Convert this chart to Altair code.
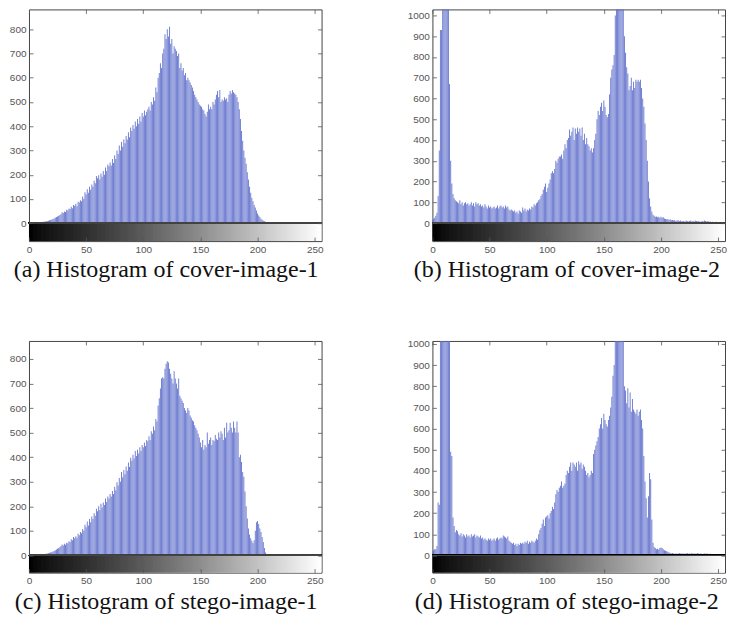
import altair as alt
import pandas as pd

levels = list(range(256))

cover1 = [
    0, 0, 1, 1, 1, 2, 2, 3, 3, 4,
    4, 5, 5, 6, 7, 8, 9, 10, 12, 13,
    15, 17, 19, 22, 25, 27, 30, 34, 37, 45,
    42, 48, 46, 55, 52, 60, 58, 68, 62, 75,
    72, 80, 70, 88, 85, 95, 90, 110, 100, 128,
    118, 140, 125, 150, 138, 160, 150, 175, 165, 195,
    185, 198, 180, 205, 192, 215, 200, 230, 215, 242,
    235, 250, 238, 265, 248, 280, 265, 300, 285, 320,
    300, 335, 315, 345, 330, 360, 345, 375, 355, 395,
    380, 405, 390, 420, 400, 430, 410, 440, 420, 455,
    440, 465, 445, 460, 470, 480, 465, 500, 490, 520,
    505, 560, 540, 600, 620, 660, 640, 700, 720, 780,
    760, 800, 770, 810, 740, 760, 700, 730, 720, 710,
    690, 700, 640, 660, 630, 640, 610, 620, 590, 600,
    590, 580, 570, 560, 545, 530, 520, 510, 500, 490,
    485, 480, 470, 465, 450, 440, 460, 490, 470, 480,
    470, 500, 490, 510, 530, 545, 520, 550, 500, 510,
    505, 520, 510, 515, 500, 530, 545, 535, 550, 540,
    535, 530, 520, 500, 470, 430, 380, 340, 300, 270,
    245, 210, 180, 150, 125, 105, 90, 75, 65, 52,
    40, 32, 25, 18, 14, 10, 8, 6, 5, 4,
    3, 3, 2, 2, 2, 1, 1, 1, 1, 0,
    0, 0, 1, 0, 0, 0, 0, 0, 0, 0,
    0, 0, 0, 0, 0, 0, 0, 0, 0, 0,
    0, 0, 0, 0, 0, 0, 0, 0, 0, 0,
    0, 0, 0, 0, 0, 0,
]

cover2 = [
    15, 20, 25, 35, 50, 130, 350, 930, 930, 1100,
    1200, 1300, 1250, 1150, 1080, 670, 300, 190, 140, 120,
    110, 105, 100, 95, 110, 90, 100, 85, 95, 100,
    90, 95, 85, 90, 100, 85, 95, 80, 100, 90,
    95, 85, 90, 80, 85, 75, 90, 80, 70, 85,
    75, 80, 70, 75, 80, 70, 75, 85, 70, 80,
    85, 75, 80, 70, 85, 75, 80, 65, 60, 65,
    60, 55, 60, 50, 55, 45, 60, 55, 50, 75,
    60, 70, 55, 65, 60, 70, 65, 80, 75, 90,
    85, 95, 100, 110, 115, 130, 140, 160, 175, 190,
    150, 170, 190, 210, 240, 250, 240, 260, 300, 290,
    310, 320, 320, 330, 310, 350, 380, 360, 400, 410,
    450, 420, 440, 460, 400, 455, 430, 460, 440, 455,
    420, 460, 400, 430, 380, 410, 380, 370, 350, 360,
    340, 360, 400, 430, 500, 540, 520, 560, 580, 540,
    590, 560, 520, 510, 525, 620, 700, 740, 760, 810,
    1000, 1100, 1200, 1300, 1250, 1150, 1100, 1050, 900, 820,
    750, 720, 640, 660, 700, 640, 680, 650, 690, 680,
    690, 680, 690, 650, 600, 560, 480, 400, 300, 200,
    120, 80, 55, 40, 35, 30, 32, 28, 30, 25,
    30, 25, 28, 22, 20, 18, 20, 15, 18, 15,
    15, 12, 15, 10, 12, 14, 10, 12, 8, 10,
    10, 8, 12, 10, 8, 10, 12, 8, 10, 8,
    12, 10, 8, 10, 6, 8, 10, 8, 12, 10,
    8, 10, 6, 8, 5, 6, 5, 4, 6, 5,
    4, 5, 3, 4, 2, 2,
]

stego1 = [
    0, 0, 0, 1, 1, 1, 2, 2, 2, 3,
    3, 4, 5, 6, 6, 7, 8, 9, 11, 12,
    14, 16, 18, 21, 24, 27, 30, 33, 38, 45,
    40, 48, 44, 52, 50, 58, 55, 66, 62, 75,
    70, 78, 72, 88, 82, 95, 90, 108, 100, 125,
    115, 138, 122, 148, 135, 158, 148, 172, 162, 190,
    180, 200, 185, 210, 195, 215, 205, 232, 218, 240,
    232, 250, 240, 262, 250, 280, 265, 298, 285, 315,
    300, 340, 318, 348, 330, 362, 345, 378, 360, 398,
    385, 410, 395, 425, 405, 430, 415, 440, 425, 450,
    440, 460, 445, 470, 465, 485, 470, 505, 495, 525,
    510, 555, 545, 610, 640, 680, 720, 725, 720, 760,
    780, 790, 785, 760, 740, 720, 700, 750, 720, 700,
    680, 720, 650, 640, 630, 620, 600, 590, 580, 600,
    590, 570, 560, 550, 545, 530, 520, 510, 495, 480,
    460, 440, 470, 430, 450, 440, 500, 455, 470, 480,
    450, 470, 465, 490, 475, 470, 500, 480, 505, 495,
    470, 520, 480, 540, 500, 510, 540, 520, 500, 545,
    520, 500, 545, 500, 400, 410, 380, 340, 320, 260,
    200, 150, 110, 85, 70, 60, 50, 62, 100, 135,
    140, 128, 110, 95, 75, 55, 30, 12, 6, 4,
    3, 2, 2, 2, 1, 1, 2, 1, 1, 0,
    0, 0, 0, 0, 0, 0, 0, 0, 0, 0,
    0, 0, 0, 0, 0, 0, 0, 0, 0, 0,
    0, 0, 0, 0, 0, 0, 0, 0, 0, 0,
    0, 0, 0, 0, 0, 0,
]

stego2 = [
    20, 25, 30, 30, 45, 250, 240, 1100, 1200, 1300,
    1250, 1200, 1150, 1100, 1080, 1050, 490, 470, 180, 140,
    110, 120, 115, 100, 95, 105, 90, 100, 95, 85,
    100, 90, 95, 85, 100, 90, 95, 100, 85, 95,
    90, 85, 95, 80, 85, 75, 80, 75, 70, 80,
    75, 80, 70, 75, 80, 70, 80, 85, 75, 80,
    85, 80, 95, 90, 85, 80, 90, 70, 65, 60,
    55, 60, 50, 55, 45, 55, 50, 60, 55, 60,
    55, 65, 60, 70, 55, 65, 60, 70, 65, 60,
    70, 80, 75, 100, 120, 130, 150, 170, 140, 180,
    185, 190, 175, 200, 210, 230, 220, 250, 290, 310,
    300, 320, 330, 350, 320, 330, 340, 380, 400, 390,
    420, 440, 400, 440, 430, 420, 440, 400, 445, 430,
    440, 410, 430, 420, 400, 380, 390, 370, 380, 400,
    390, 480, 500, 520, 540, 560, 600, 620, 650, 600,
    670, 640, 620, 610, 640, 660, 700, 750, 850, 900,
    1100, 1200, 1300, 1250, 1200, 1150, 1100, 1080, 800, 780,
    720, 790, 700, 770, 680, 740, 690, 680, 670, 690,
    660, 680, 690, 640, 600, 470, 350, 270, 180, 280,
    390, 360, 170, 60, 40, 35, 30, 32, 28, 35,
    38, 35, 30, 25, 22, 20, 18, 15, 12, 10,
    12, 10, 8, 10, 8, 10, 12, 10, 8, 10,
    10, 8, 10, 12, 8, 10, 8, 12, 10, 8,
    10, 8, 12, 10, 8, 10, 6, 8, 10, 8,
    10, 8, 6, 8, 6, 5, 6, 5, 4, 6,
    5, 4, 6, 3, 4, 2,
]

captions = [
    "(a) Histogram of cover-image-1",
    "(b) Histogram of cover-image-2",
    "(c) Histogram of stego-image-1",
    "(d) Histogram of stego-image-2",
]
x_ticks = [0, 50, 100, 150, 200, 250]
y_ticks_1 = [0, 100, 200, 300, 400, 500, 600, 700, 800]
y_ticks_2 = [0, 100, 200, 300, 400, 500, 600, 700, 800, 900, 1000]

BAR = "#5e6ecb"
W, H = 293, 232
TICK = 4


def panel(counts, ymax, ybot, yticks, caption):
    df = pd.DataFrame({"level": levels, "count": counts})
    df["x0"] = df["level"] - 0.4
    df["x1"] = df["level"] + 0.4
    df["g0"] = df["level"] - 0.5
    df["g1"] = df["level"] + 1.2
    df["ybot"] = ybot
    df["yzero"] = 0
    xs = alt.Scale(domain=[0, 256], nice=False, zero=False)
    ys = alt.Scale(domain=[ybot, ymax], nice=False, zero=False)
    base = alt.Chart(df)
    common = dict(title=None, grid=False, labelFont="Liberation Sans", labelFontSize=10,
                  labelColor="#555", tickSize=TICK, tickColor="#555", tickWidth=0.8,
                  domain=False, labelFlush=False, format="d", offset=-TICK, zindex=1)
    xaxis = alt.Axis(values=x_ticks, orient="bottom", labelPadding=3, **common)
    yaxis = alt.Axis(values=yticks, orient="left", labelPadding=3, **common)
    xaxis_top = alt.Axis(values=x_ticks, orient="top", labels=False, **common)
    yaxis_right = alt.Axis(values=yticks, orient="right", labels=False, **common)
    bars = base.mark_rect(color=BAR, clip=True, opacity=0.95).encode(
        x=alt.X("x0:Q", scale=xs, axis=xaxis),
        x2="x1:Q",
        y=alt.Y("count:Q", scale=ys, axis=yaxis),
        y2="yzero:Q",
    )
    grad = base.mark_rect(clip=True).encode(
        x=alt.X("g0:Q", scale=xs, axis=xaxis_top),
        x2="g1:Q",
        y=alt.Y("ybot:Q", scale=ys, axis=yaxis_right),
        y2="yzero:Q",
        color=alt.Color("level:Q", scale=alt.Scale(domain=[0, 255], range=["#000000", "#ffffff"]),
                        legend=None),
    )
    zero = base.mark_rule(color="#444", strokeWidth=0.8).encode(
        y=alt.Y("yzero:Q", scale=ys, axis=None),
    )
    return alt.layer(bars, grad, zero).resolve_scale(x="independent", y="independent").properties(
        width=W, height=H,
        title=alt.TitleParams(caption, orient="bottom", anchor="middle", frame="bounds",
                              font="Liberation Serif", fontSize=24, fontWeight="normal",
                              color="#111", offset=4),
    )


pa = panel(cover1, 882, -74, y_ticks_1, captions[0])
pb = panel(cover2, 1029, -87, y_ticks_2, captions[1])
pc = panel(stego1, 873, -70, y_ticks_1, captions[2])
pd_ = panel(stego2, 1014, -81, y_ticks_2, captions[3])

chart = alt.vconcat(
    alt.hconcat(pa, pb, spacing=83),
    alt.hconcat(pc, pd_, spacing=83),
    spacing=55,
).properties(padding=0).configure_view(stroke="#444", strokeWidth=1)

chart.save("out.html", embed_options={"renderer": "svg", "actions": False})
